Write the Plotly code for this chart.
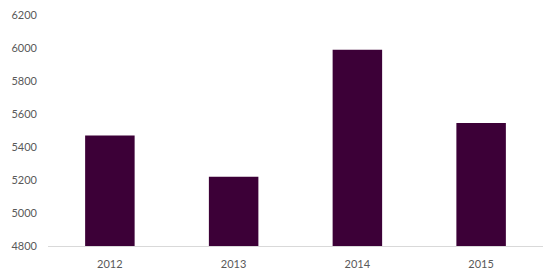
import plotly.graph_objects as go

years = ["2012", "2013", "2014", "2015"]
values = [5470, 5220, 5990, 5545]
y_ticks = [4800, 5000, 5200, 5400, 5600, 5800, 6000, 6200]

fig = go.Figure(go.Bar(x=years, y=values, marker=dict(color="#3C0037", line=dict(width=0))))

fig.update_layout(
    width=550, height=280,
    margin=dict(l=48, r=7, t=15, b=34),
    plot_bgcolor="white", paper_bgcolor="white",
    bargap=0.6,
    showlegend=False,
    font=dict(family="Lato, Open Sans, sans-serif", size=11, color="#595959"),
)
fig.update_yaxes(range=[4800, 6200], tickvals=y_ticks, showgrid=False, zeroline=False,
                 showline=False, ticks="", ticklabelstandoff=10)
fig.update_xaxes(showgrid=False, showline=True, linecolor="#D9D9D9", linewidth=1,
                 ticks="", ticklabelstandoff=8)

fig.write_html("out.html")
